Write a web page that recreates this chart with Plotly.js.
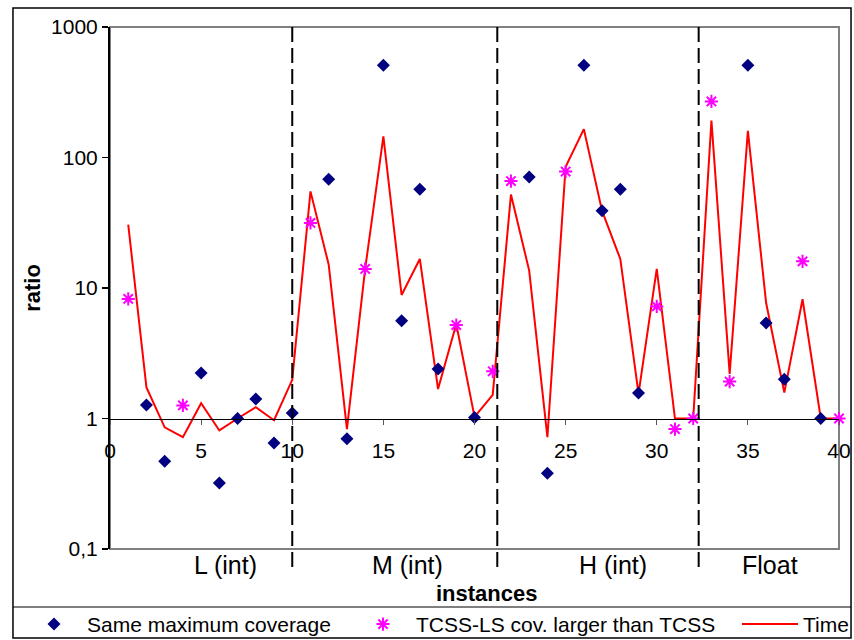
<!DOCTYPE html>
<html><head><meta charset="utf-8">
<script src="https://cdn.plot.ly/plotly-3.0.1.min.js"></script>
<style>body{margin:0;background:#fff}</style>
</head><body>
<div id="chart" style="width:854px;height:640px"></div>
<script>
// ---- data ----
const instances = [1,2,3,4,5,6,7,8,9,10,11,12,13,14,15,16,17,18,19,20,21,22,23,24,25,26,27,28,29,30,31,32,33,34,35,36,37,38,39,40];
const timeRatio = [30.6,1.73,0.855,0.72,1.31,0.81,1.0,1.22,0.97,1.98,
                   55,15.1,0.83,14,145,8.84,16.7,1.68,5.3,1.03,
                   1.52,52,13.6,0.72,85,165,39,16.7,1.55,14,
                   1.0,1.0,192,2.2,160,7.7,1.58,8.2,1.0,1.0];
const sameCovX = [2,3,5,6,7,8,9,10,12,13,15,16,17,18,20,23,24,26,27,28,29,35,36,37,39];
const sameCovY = [1.27,0.47,2.23,0.32,1.0,1.41,0.65,1.10,68,0.70,510,5.6,57,2.39,1.02,71,0.38,510,39,57,1.57,510,5.4,2.0,1.0];
const largerX = [1,4,11,14,19,21,22,25,30,31,32,33,34,38,40];
const largerY = [8.25,1.26,31.5,14,5.2,2.3,66,78,7.23,0.83,1.0,269,1.92,16,1.0];
const groupNames = ['L (int)','M (int)','H (int)','Float'];
const groupCenters = [6.35,16.3,27.6,36.2];
const groupBounds = [10,21.25,32.3];
const xTicks = [0,5,10,15,20,25,30,35,40];
const yTickVals = [0.1,1,10,100,1000];
const yTickText = ['0,1','1','10','100','1000'];
const seriesNames = ['Same maximum coverage','TCSS-LS cov. larger than TCSS','Time'];
const xTitle = 'instances';
const yTitle = 'ratio';

// ---- chart ----
const FONT = '"Liberation Sans", Arial, sans-serif';
const traces = [
  {x: instances, y: timeRatio, name: seriesNames[2], type: 'scatter', mode: 'lines',
   legendwidth: 45,
   line: {color: '#FF0000', width: 2}},
  {x: largerX, y: largerY, name: seriesNames[1], type: 'scatter', mode: 'markers',
   cliponaxis: false, legendwidth: 316,
   marker: {symbol: 'asterisk-open', size: 11, color: '#FF00FF', line: {color: '#FF00FF', width: 2}}},
  {x: sameCovX, y: sameCovY, name: seriesNames[0], type: 'scatter', mode: 'markers',
   cliponaxis: false, legendwidth: 258,
   marker: {symbol: 'diamond', size: 10, color: '#000080', line: {width: 0}}}
];

// outer frame edges (paper coordinates)
const FL = -0.1331, FR = 1.0165, FB = -0.1705, FT = 1.0364, FLG = -0.1111;
const shapes = [
  {type: 'rect', xref: 'paper', yref: 'paper', x0: 0, x1: 1, y0: 0, y1: 1,
   line: {color: '#808080', width: 2}, layer: 'below'},
  {type: 'rect', xref: 'paper', yref: 'paper', x0: FL, x1: FR, y0: FB, y1: FT,
   line: {color: '#000', width: 1.5}, layer: 'above'},
  {type: 'line', xref: 'paper', yref: 'paper', x0: FL, x1: FR, y0: FLG, y1: FLG,
   line: {color: '#000', width: 1.2}, layer: 'above'}
];
groupBounds.forEach(b => shapes.push({type: 'line', xref: 'x', yref: 'paper', x0: b, x1: b, y0: -0.0345, y1: 1,
  line: {color: '#000', width: 2, dash: '15px,6px'}}));

const annotations = groupNames.map((g, i) => ({
  text: g, x: groupCenters[i], xref: 'x', y: -0.0307, yref: 'paper',
  showarrow: false, xanchor: 'center', yanchor: 'middle', font: {size: 25, family: FONT, color: '#000'}
}));
annotations.push({text: '<b>' + xTitle + '</b>', x: 0.517, xref: 'paper', y: -0.0843, yref: 'paper',
  showarrow: false, xanchor: 'center', yanchor: 'middle', font: {size: 22, family: FONT, color: '#000'}});

const layout = {
  width: 854, height: 640,
  margin: {l: 110, r: 15, t: 27, b: 91, autoexpand: false},
  paper_bgcolor: '#fff', plot_bgcolor: '#fff',
  font: {family: FONT, size: 21, color: '#000'},
  showlegend: true,
  legend: {orientation: 'h', x: -0.1221, xanchor: 'left', y: -0.1053, yanchor: 'top',
           borderwidth: 0, bgcolor: 'rgba(0,0,0,0)', traceorder: 'reversed',
           itemwidth: 56, font: {size: 21, family: FONT, color: '#000'}},
  xaxis: {range: [0, 40], tickvals: xTicks, anchor: 'free', position: 0.25,
          showline: true, linecolor: '#000', linewidth: 1.5,
          ticks: 'outside', ticklen: 5, tickcolor: '#555', tickwidth: 1,
          showgrid: false, zeroline: false, ticklabelstandoff: 8, automargin: false,
          tickfont: {size: 21, family: FONT, color: '#000'}},
  yaxis: {type: 'log', range: [-1, 3], tickvals: yTickVals, ticktext: yTickText,
          showline: true, linecolor: '#000', linewidth: 2,
          ticks: 'outside', ticklen: 6, tickcolor: '#000', tickwidth: 1.5,
          showgrid: false, zeroline: false, automargin: false,
          tickfont: {size: 21, family: FONT, color: '#000'},
          title: {text: '<b>' + yTitle + '</b>', font: {size: 22, family: FONT, color: '#000'}, standoff: 4}},
  shapes: shapes,
  annotations: annotations
};

Plotly.newPlot('chart', traces, layout, {displayModeBar: false, staticPlot: true});
</script>
</body></html>
